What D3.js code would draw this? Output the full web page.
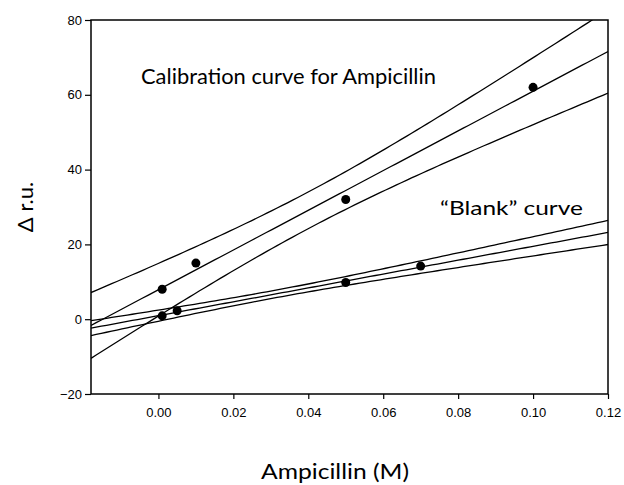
<!DOCTYPE html>
<html>
<head>
<meta charset="utf-8">
<script src="https://cdn.jsdelivr.net/npm/d3@7"></script>
<style>
  body { margin: 0; background: #fff; }
</style>
</head>
<body>
<div id="chart"></div>
<script>
// data
var calibX = [0.001, 0.01, 0.05, 0.1];
var calibY = [8, 15, 32, 62];
var blankX = [0.001, 0.005, 0.05, 0.07];
var blankY = [0.9, 2.25, 9.8, 14.2];
var xTicks = [0, 0.02, 0.04, 0.06, 0.08, 0.1, 0.12];
var yTicks = [-20, 0, 20, 40, 60, 80];

var margin = {top: 20, right: 16, bottom: 91, left: 91},
    width = 624 - margin.left - margin.right,
    height = 485 - margin.top - margin.bottom;

var svg = d3.select("#chart")
  .append("svg")
    .attr("width", 624)
    .attr("height", 485)
  .append("g")
    .attr("transform", "translate(" + margin.left + "," + margin.top + ")");

var x = d3.scaleLinear().domain([-0.018, 0.12]).range([0, width]);
var y = d3.scaleLinear().domain([-20, 80]).range([height, 0]);

svg.append("clipPath").attr("id", "clip")
  .append("rect").attr("width", width).attr("height", height);

// linear fit + 95% confidence band of the mean
function fit(xs, ys) {
  var n = xs.length,
      mx = d3.mean(xs), my = d3.mean(ys),
      sxx = d3.sum(xs, function(v) { return (v - mx) * (v - mx); }),
      sxy = d3.sum(xs, function(v, i) { return (v - mx) * (ys[i] - my); }),
      b = sxy / sxx, a = my - b * mx,
      sse = d3.sum(xs, function(v, i) { var r = ys[i] - (a + b * v); return r * r; }),
      s = Math.sqrt(sse / (n - 2)),
      t = 4.303; // t(0.975, df=2)
  var pts = d3.range(0, 101).map(function(i) {
    var xv = x.domain()[0] + (x.domain()[1] - x.domain()[0]) * i / 100;
    var h = t * s * Math.sqrt(1 / n + (xv - mx) * (xv - mx) / sxx);
    var m = a + b * xv;
    return {x: xv, m: m, lo: m - h, hi: m + h};
  });
  return pts;
}

var lines = svg.append("g").attr("clip-path", "url(#clip)");
[fit(calibX, calibY), fit(blankX, blankY)].forEach(function(pts) {
  ["m", "lo", "hi"].forEach(function(k) {
    lines.append("path")
      .datum(pts)
      .attr("fill", "none")
      .attr("stroke", "black")
      .attr("stroke-width", 1.3)
      .attr("d", d3.line()
        .x(function(d) { return x(d.x); })
        .y(function(d) { return y(d[k]); }));
  });
});

// points
var pts = calibX.map(function(v, i) { return [v, calibY[i]]; })
  .concat(blankX.map(function(v, i) { return [v, blankY[i]]; }));
svg.selectAll("circle.pt")
  .data(pts)
  .enter()
  .append("circle")
    .attr("class", "pt")
    .attr("cx", function(d) { return x(d[0]); })
    .attr("cy", function(d) { return y(d[1]); })
    .attr("r", 4.5)
    .attr("fill", "black");

// axes
var xAxis = svg.append("g")
  .attr("transform", "translate(0," + height + ")")
  .call(d3.axisBottom(x).tickValues(xTicks).tickFormat(d3.format(".2f")).tickSize(5).tickPadding(9));
var yAxis = svg.append("g")
  .call(d3.axisLeft(y).tickValues(yTicks).tickSize(6).tickPadding(3));
[xAxis, yAxis].forEach(function(g) {
  g.select(".domain").remove();
  g.selectAll("line").attr("stroke", "black").attr("stroke-width", 1.2);
  g.selectAll("text")
    .style("font-family", "Liberation Sans, Arial, sans-serif")
    .style("font-size", "13px")
    .attr("fill", "black");
});

// frame
svg.append("rect")
  .attr("width", width)
  .attr("height", height)
  .attr("fill", "none")
  .attr("stroke", "black")
  .attr("stroke-width", 1.5);

// annotations
svg.append("text")
  .attr("x", 141 - margin.left)
  .attr("y", 84 - margin.top)
  .style("font-family", "Lato, sans-serif")
  .style("font-size", "21px")
  .attr("textLength", 295)
  .attr("lengthAdjust", "spacingAndGlyphs")
  .text("Calibration curve for Ampicillin");

svg.append("text")
  .attr("x", 440 - margin.left)
  .attr("y", 215 - margin.top)
  .style("font-family", "Lato, sans-serif")
  .style("font-size", "20px")
  .attr("textLength", 143)
  .attr("lengthAdjust", "spacingAndGlyphs")
  .text("\u201cBlank\u201d curve");

// axis labels
svg.append("text")
  .attr("x", 261 - margin.left)
  .attr("y", 479 - margin.top)
  .style("font-family", "Lato, sans-serif")
  .style("font-size", "22px")
  .attr("textLength", 148)
  .attr("lengthAdjust", "spacingAndGlyphs")
  .text("Ampicillin (M)");

svg.append("text")
  .attr("transform", "rotate(-90)")
  .attr("x", -height / 2)
  .attr("y", 33 - margin.left)
  .style("text-anchor", "middle")
  .style("font-family", "Lato, sans-serif")
  .style("font-size", "22px")
  .text("\u0394 r.u.");
</script>
</body>
</html>
